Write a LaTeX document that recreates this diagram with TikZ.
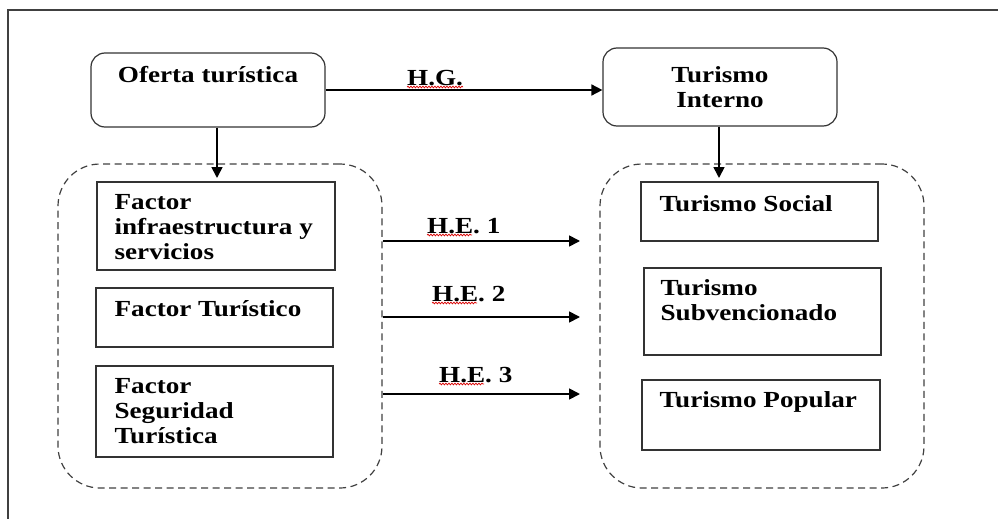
\documentclass[tikz,border=0pt]{standalone}
\usepackage{fontspec}
\setmainfont{Liberation Serif}[FakeStretch=1.18]
\usetikzlibrary{arrows.meta,positioning,decorations.pathmorphing}

\begin{document}
\begin{tikzpicture}[
    x=1pt, y=-1pt,
    every node/.style={font=\fontsize{23}{25}\selectfont\bfseries},
    topbox/.style={draw=black!80, rounded corners=14pt, line width=1.2pt, inner sep=0pt, minimum width=234pt},
    factorbox/.style={draw=black!80, line width=1.2pt, inner sep=0pt, minimum width=237pt},
    group/.style={draw=black!75, dash pattern=on 7pt off 4.5pt, rounded corners=42pt, line width=1.2pt, inner sep=0pt, minimum width=324pt, minimum height=324pt},
    boxtext/.style={anchor=base west, align=left, inner sep=0pt},
    hyp/.style={anchor=base west, inner sep=0pt},
    flow/.style={-{Triangle[length=11pt, width=11pt]}, line width=1.7pt},
    spell/.style={draw=red!85!black, line width=0.7pt, decorate, decoration={snake, amplitude=0.9pt, segment length=3pt}}
]
\useasboundingbox (0,0) rectangle (998,519);
\draw[line width=1.2pt, black!75] (998,10) -- (8,10) -- (8,519);

% top row
\node[topbox, minimum height=74pt] (oferta) at (208,90) {};
\node[anchor=base, inner sep=0pt] (oferta-t) at ([yshift=-30pt]oferta.north) {Oferta turística};
\node[topbox, minimum height=78pt, align=center] (interno) at (720,87) {Turismo\\Interno};

% dashed groups
\node[group] (lgroup) at (220,326) {};
\node[group] (rgroup) at (762,326) {};

% factors (base anchor = last line)
\node[factorbox, minimum width=238pt, minimum height=88pt] (infra) at (216,226) {};
\node[factorbox, minimum height=59pt] (fturis) at (214.5,317.5) {};
\node[factorbox, minimum height=91pt] (fseg) at (214.5,411.5) {};
\node[boxtext] (infra-t) at ([shift={(18pt,-78pt)}]infra.north west) {Factor\\infraestructura y\\servicios};
\node[boxtext] (fturis-t) at ([shift={(19pt,-29pt)}]fturis.north west) {Factor Turístico};
\node[boxtext] (fseg-t) at ([shift={(19pt,-78pt)}]fseg.north west) {Factor\\Seguridad\\Turística};

% tipos de turismo
\node[factorbox, minimum height=59pt] (tsoc) at (759.5,211.5) {};
\node[factorbox, minimum height=87pt] (tsub) at (762.5,311.5) {};
\node[factorbox, minimum width=238pt, minimum height=70pt] (tpop) at (761,415) {};
\node[boxtext] (tsoc-t) at ([shift={(19pt,-30pt)}]tsoc.north west) {Turismo Social};
\node[boxtext] (tsub-t) at ([shift={(17pt,-53pt)}]tsub.north west) {Turismo\\Subvencionado};
\node[boxtext] (tpop-t) at ([shift={(18pt,-28pt)}]tpop.north west) {Turismo Popular};

% hipotesis
\draw[flow] (oferta.east) -- (oferta.east -| interno.west);
\node[hyp] (hg) at (407,85) {H.G.};
\draw[spell] ([yshift=-2pt]hg.base west) -- ([yshift=-2pt]hg.base east);

\coordinate (oin) at (217,178);
\coordinate (iin) at (719,178);
\draw[flow] ([xshift=9pt]oferta.south) -- (oin);
\draw[flow] ([xshift=-1pt]interno.south) -- (iin);

\foreach \n/\y/\lx/\ly in {1/241/427/233, 2/317/432/301, 3/394/439/382} {
  \coordinate (hs\n) at (lgroup.east |- 0,\y);
  \coordinate (he\n) at (580,\y);
  \draw[flow] (hs\n) -- (he\n);
  \node[hyp] (he\n-l) at (\lx,\ly) {H.E. \n};
  \draw[spell] ([yshift=-2pt]he\n-l.base west) -- ++(45pt,0);
}
\end{tikzpicture}
\end{document}
